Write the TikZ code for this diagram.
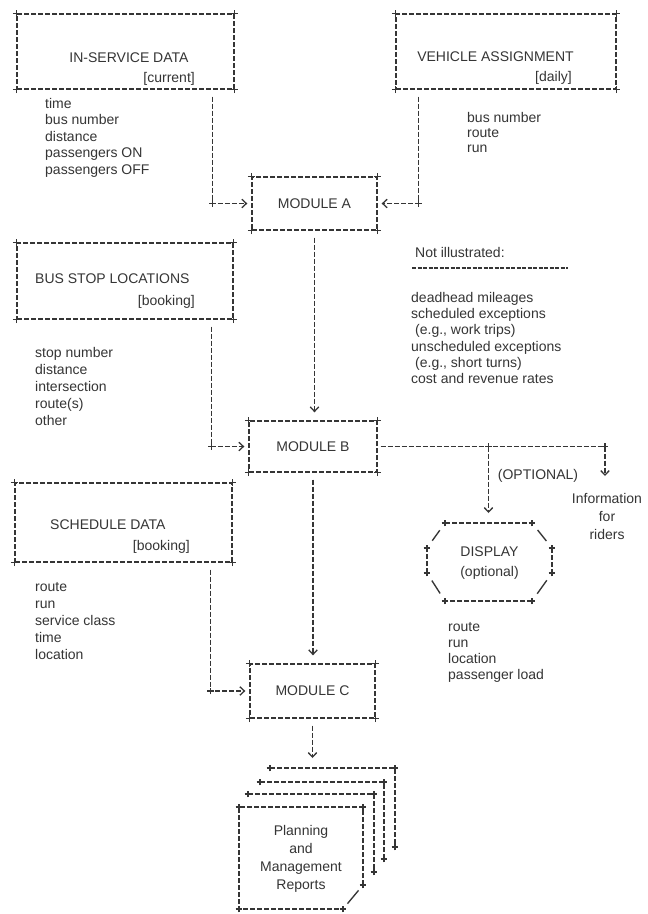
\documentclass[tikz,border=0pt]{standalone}
\usepackage{fontspec}
\setmainfont{Liberation Sans}
\usetikzlibrary{arrows.meta,calc}
\definecolor{ink}{HTML}{353535}
\tikzset{
  plus/.pic={\draw[ink,solid,line width=1.2pt] (-3.4pt,0)--(3.4pt,0) (0,-3.4pt)--(0,3.4pt);},
  dl/.style={draw=ink,line width=1.35pt,dash pattern=on 5pt off 2pt},
  sl/.style={draw=ink,line width=1.35pt},
  dbox/.style={dl,rectangle},
  flow/.style={dl,-{Straight Barb[length=4.5pt,width=8.5pt,line width=1.3pt]}},
  txt/.style={text=ink,font=\fontsize{14}{16.5}\selectfont,inner sep=0pt},
  lst/.style={txt,anchor=north west,align=left},
}
\newcommand\boxcorners[1]{\foreach \a in {north west,north east,south west,south east}{\pic at (#1.\a) {plus};}}
\begin{document}
\begin{tikzpicture}[x=1pt,y=-1pt]
\useasboundingbox (0,0) rectangle (648,914);
\fill[white] (0,0) rectangle (648,914);

% boxes
\node[dbox,minimum width=217pt,minimum height=75pt] (insvc) at (125.5,51.5) {};
\node[dbox,minimum width=220pt,minimum height=75pt] (veh) at (506,51.5) {};
\node[dbox,minimum width=125pt,minimum height=53pt] (modA) at (314.5,203.5) {};
\node[dbox,minimum width=216pt,minimum height=76pt] (busstop) at (125,281) {};
\node[dbox,minimum width=128pt,minimum height=51pt] (modB) at (313,446.5) {};
\node[dbox,minimum width=217pt,minimum height=79pt] (sched) at (123.5,522.5) {};
\node[dbox,minimum width=125pt,minimum height=54pt] (modC) at (312.5,691) {};
\foreach \n in {insvc,veh,modA,busstop,modB,sched,modC}{\boxcorners{\n}}

% box texts
\node[txt] (tinsvc) at (129,58) {IN-SERVICE DATA};
\node[txt,anchor=east] (cinsvc) at (195,79) {[current]};
\node[txt] (tveh) at (495.5,57) {VEHICLE ASSIGNMENT};
\node[txt,anchor=east] (cveh) at (572,78) {[daily]};
\node[txt] at (modA) (tmodA) {MODULE A};
\node[txt,anchor=west] (tbus) at (35,279) {BUS STOP LOCATIONS};
\node[txt,anchor=east] (cbus) at (195,302) {[booking]};
\node[txt] at (modB) (tmodB) {MODULE B};
\node[txt,anchor=west] (tsched) at (50,525) {SCHEDULE DATA};
\node[txt,anchor=east] (csched) at (190,547) {[booking]};
\node[txt] at (modC) (tmodC) {MODULE C};

% lists
\node[lst] (l1) at (45,98) {time\\bus number\\distance\\passengers ON\\passengers OFF};
\node[lst,font=\fontsize{14}{15.2}\selectfont] (l2) at (467,112) {bus number\\route\\run};
\node[lst,font=\fontsize{14}{17}\selectfont] (l3) at (35,347) {stop number\\distance\\intersection\\route(s)\\other};
\node[lst] (nill) at (415,247) {Not illustrated:};
\coordinate (u1) at (412,268); \coordinate (u2) at (568,268);
\draw[ink,line width=1.2pt,dash pattern=on 4pt off 1.5pt] (u1) -- (u2);
\node[lst,font=\fontsize{14}{16.3}\selectfont] (l4) at (411,292) {deadhead mileages\\scheduled exceptions\\\hspace*{4pt}(e.g., work trips)\\unscheduled exceptions\\\hspace*{4pt}(e.g., short turns)\\cost and revenue rates};
\node[lst,font=\fontsize{14}{17}\selectfont] (l6) at (35,582) {route\\run\\service class\\time\\location};
\node[lst,font=\fontsize{14}{16}\selectfont] (l7) at (448,622) {route\\run\\location\\passenger load};

% connectors
\coordinate (c1) at ([xshift=-22pt]insvc.south east);
\draw[flow,shorten <=7pt,shorten >=4pt] (c1) |- (modA.west);
\pic at (c1 |- modA.west) {plus};
\coordinate (c2) at ([xshift=23pt]veh.south west);
\draw[flow,shorten <=7pt,shorten >=4pt] (c2) |- (modA.east);
\pic at (c2 |- modA.east) {plus};
\draw[flow,shorten <=7pt,shorten >=8pt] (modA.south) -- (modA.south |- modB.north);
\coordinate (c4) at ([xshift=-22pt]busstop.south east);
\draw[flow,shorten <=7pt,shorten >=4pt] (c4) |- (modB.west);
\pic at (c4 |- modB.west) {plus};
\coordinate (c8) at ([xshift=-22pt]sched.south east);
\draw[flow,shorten <=7pt,shorten >=4pt] (c8) |- (modC.west);
\pic at (c8 |- modC.west) {plus};
\draw[flow,shorten <=7pt,shorten >=8pt] (modB.south) -- (modB.south |- modC.north);

% optional outputs
\coordinate (br) at (488.5,446.5);
\coordinate (ic) at (605,446.5);
\coordinate (ia) at (605,476);
\coordinate (dtop) at (488.5,523);
\draw[dl,shorten <=3pt] (modB.east) -- (ic);
\draw[flow] (ic) -- (ia);
\draw[flow,shorten >=10pt] (br) -- (dtop);
\pic at (br) {plus};
\pic at (ic) {plus};
\node[txt] (opt) at (538,476) {(OPTIONAL)};
\node[txt,align=center,font=\fontsize{14}{18}\selectfont] (info) at (607,516) {Information\\for\\riders};

% display octagon
\coordinate (o1) at (445,523); \coordinate (o2) at (532,523);
\coordinate (o3) at (552,548); \coordinate (o4) at (552,573);
\coordinate (o5) at (532,601); \coordinate (o6) at (445,601);
\coordinate (o7) at (427,573); \coordinate (o8) at (427,548);
\draw[dl] (o1) -- (o2) (o3) -- (o4) (o5) -- (o6) (o7) -- (o8);
\draw[sl,shorten <=9pt,shorten >=9pt] (o2) -- (o3);
\draw[sl,shorten <=9pt,shorten >=9pt] (o4) -- (o5);
\draw[sl,shorten <=9pt,shorten >=9pt] (o6) -- (o7);
\draw[sl,shorten <=9pt,shorten >=9pt] (o8) -- (o1);
\foreach \p in {o1,o2,o3,o4,o5,o6,o7,o8}{\pic at (\p) {plus};}
\node[txt,align=center,font=\fontsize{14}{20}\selectfont] (display) at (489.5,563) {DISPLAY\\(optional)};

% reports stack
\coordinate (p4a) at (270,768); \coordinate (p4b) at (395,768); \coordinate (p4c) at (395,847);
\coordinate (p3a) at (260,782); \coordinate (p3b) at (384,782); \coordinate (p3c) at (384,859);
\coordinate (p2a) at (248,794); \coordinate (p2b) at (374,794); \coordinate (p2c) at (374,872);
\foreach \q in {p4,p3,p2}{
  \fill[white] (\q a) rectangle (\q c);
  \draw[dl] (\q a) -- (\q b) -- (\q c);
  \pic at (\q a) {plus}; \pic at (\q b) {plus}; \pic at (\q c) {plus};
}
\coordinate (f1) at (239,807); \coordinate (f2) at (363,807); \coordinate (f3) at (363,885);
\coordinate (f4) at (343,909); \coordinate (f5) at (239,909);
\fill[white] (f1) -- (f2) -- (f3) -- (f4) -- (f5) -- cycle;
\draw[dl] (f3) -- (f2) -- (f1) -- (f5) -- (f4);
\draw[sl,shorten <=7pt,shorten >=7pt] (f3) -- (f4);
\foreach \p in {f1,f2,f3,f4,f5}{\pic at (\p) {plus};}
\node[txt,align=center,font=\fontsize{14}{18}\selectfont] (rep) at (301,859) {Planning\\and\\Management\\Reports};
\draw[flow,shorten <=7pt,shorten >=10pt] (modC.south) -- (modC.south |- p4a);
\end{tikzpicture}
\end{document}
